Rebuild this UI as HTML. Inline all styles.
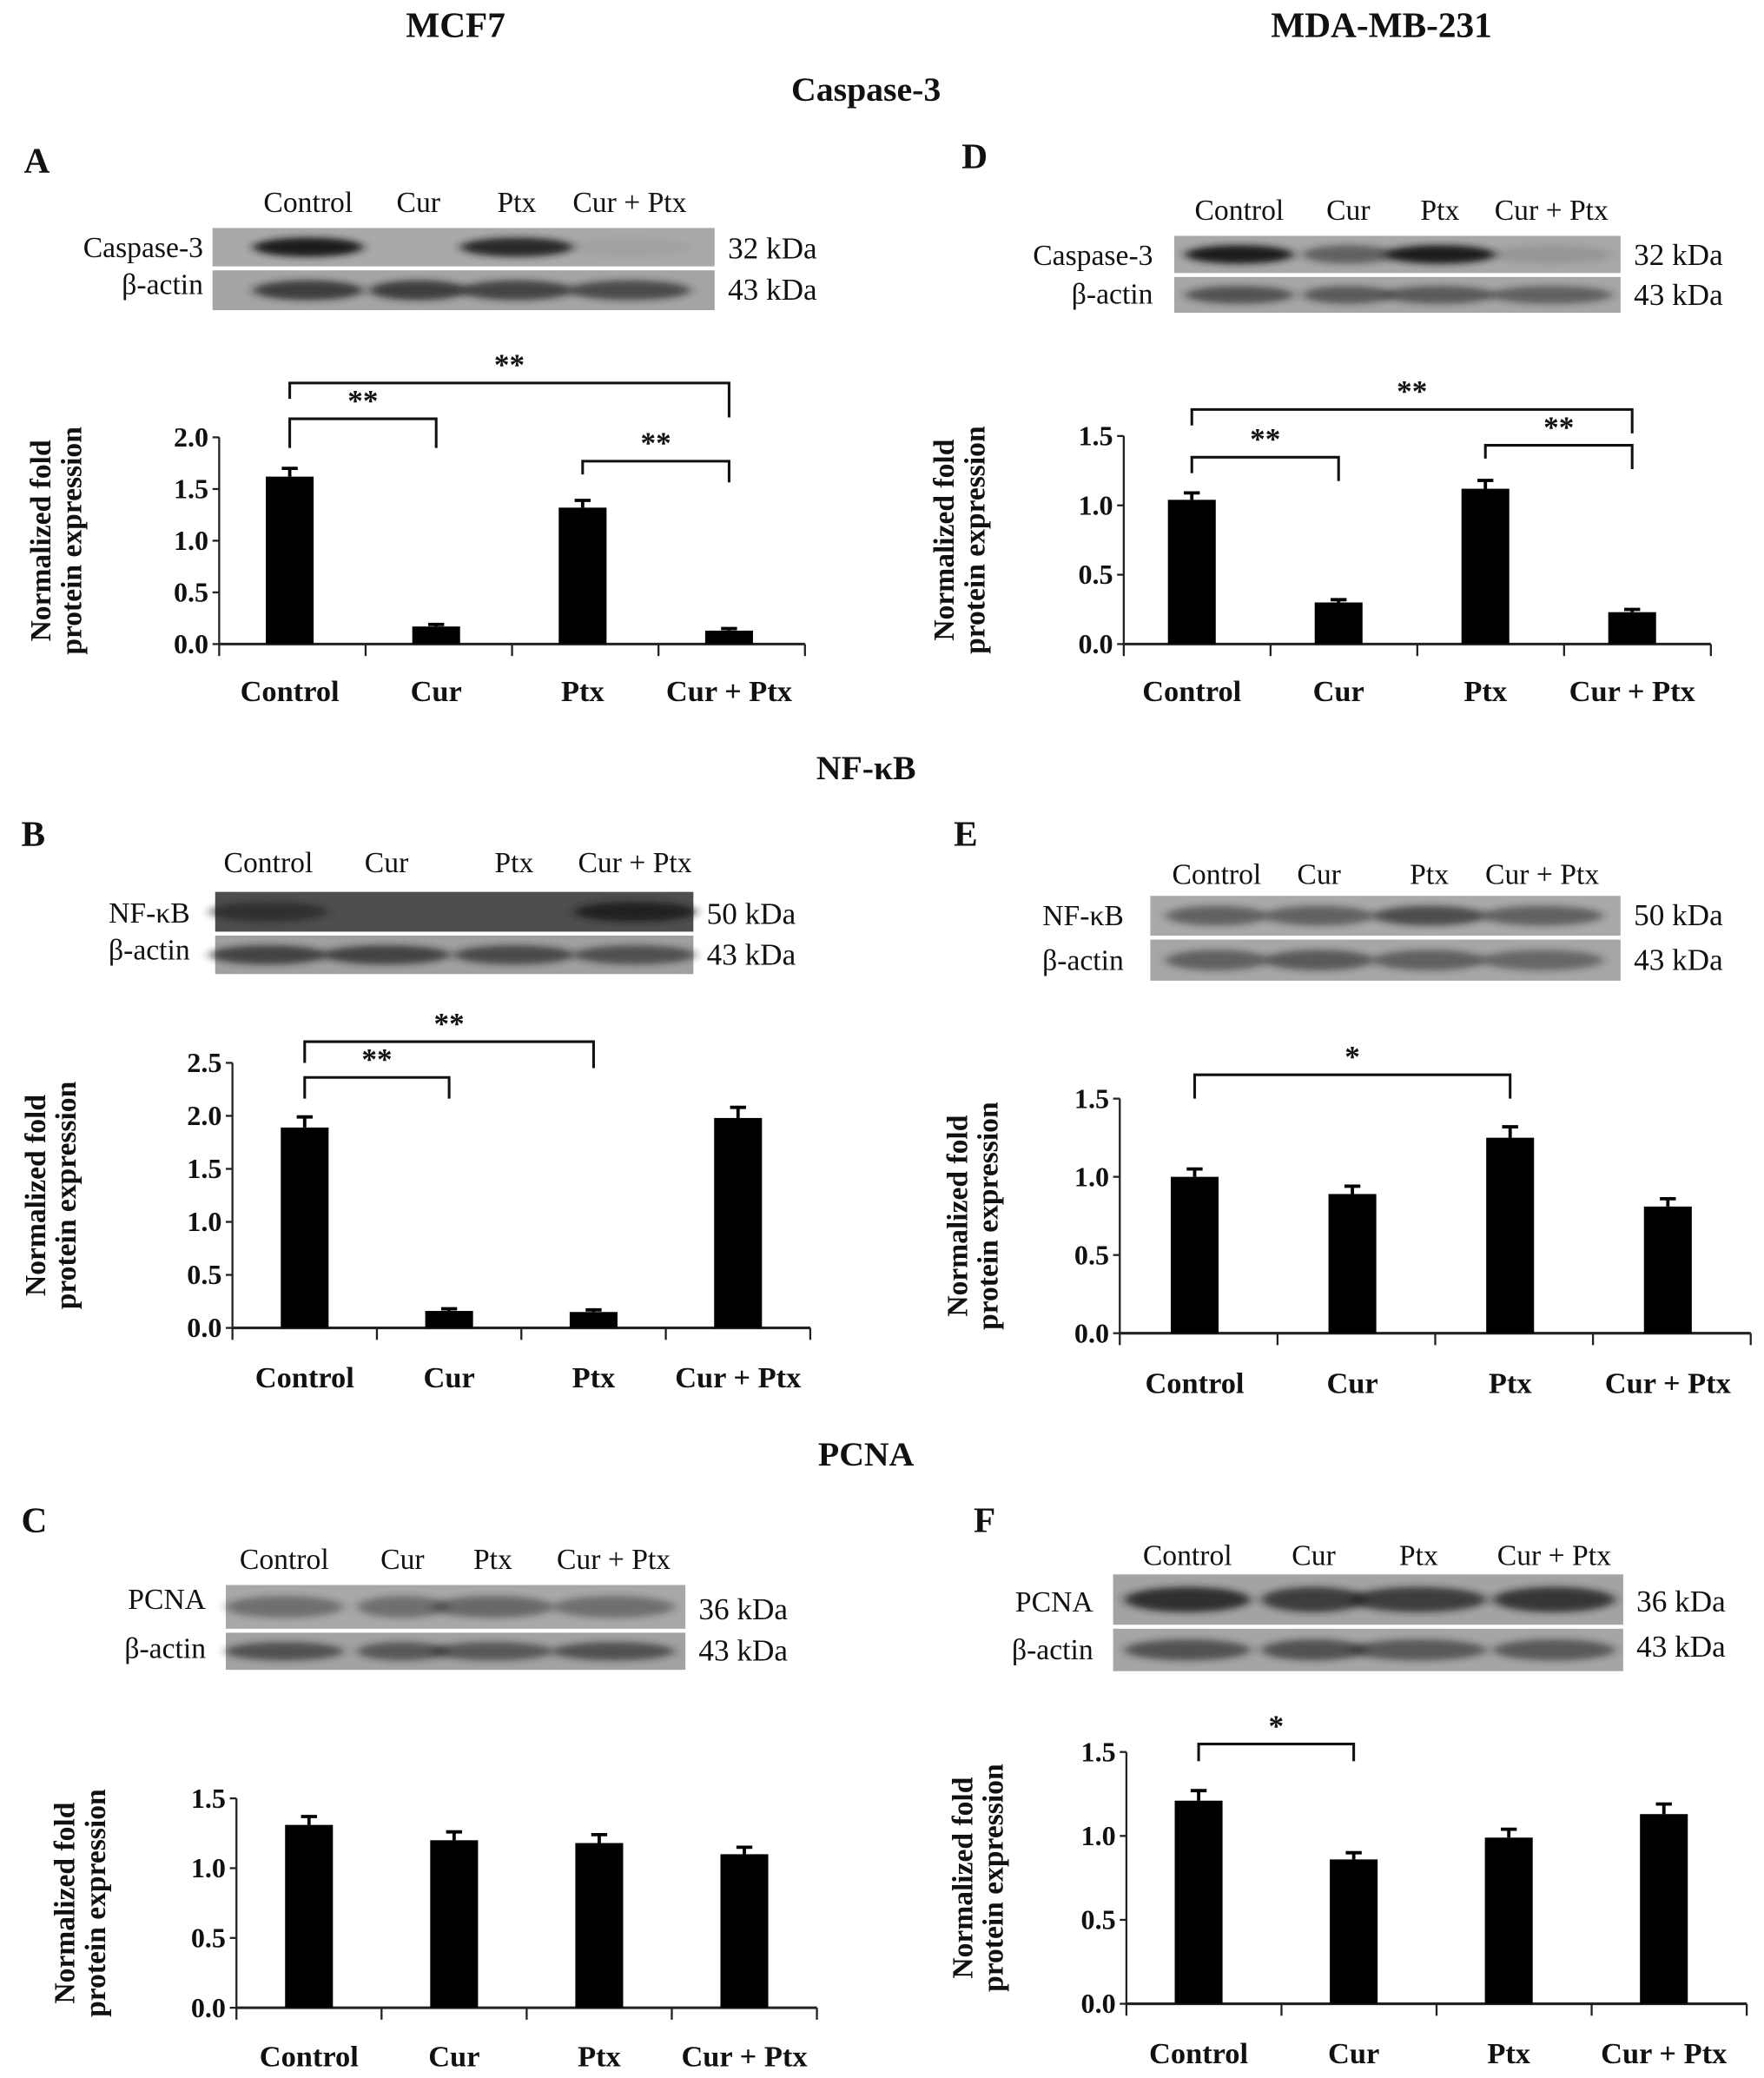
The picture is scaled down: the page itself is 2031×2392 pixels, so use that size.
<!DOCTYPE html>
<html><head><meta charset="utf-8"><style>
html,body{margin:0;padding:0;background:#fff;}
svg{display:block;}
text{font-family:"Liberation Serif",serif;fill:#111;}
.b{font-weight:bold;}
</style></head><body>
<svg id="fig" width="2031" height="2392" viewBox="0 0 1328 1568" preserveAspectRatio="none" xmlns="http://www.w3.org/2000/svg">
<defs><filter id="blur" x="-20%" y="-50%" width="140%" height="200%"><feGaussianBlur stdDeviation="4 2.5"/></filter></defs>
<text class="b" x="343" y="28" font-size="27" text-anchor="middle">MCF7</text>
<text class="b" x="1040" y="28" font-size="27" text-anchor="middle">MDA-MB-231</text>
<text class="b" x="652" y="76" font-size="26" text-anchor="middle">Caspase-3</text>
<text class="b" x="652" y="588" font-size="26" text-anchor="middle">NF-κB</text>
<text class="b" x="652" y="1106" font-size="26" text-anchor="middle">PCNA</text>
<g id="root"></g>
</svg>
<script>
// ---- chart data ----
const categories = ["Control","Cur","Ptx","Cur + Ptx"];
const valsA = [1.62,0.17,1.32,0.13], errsA = [0.08,0.02,0.07,0.02];
const valsB = [1.89,0.16,0.15,1.98], errsB = [0.10,0.02,0.02,0.10];
const valsC = [1.31,1.20,1.18,1.10], errsC = [0.06,0.06,0.06,0.05];
const valsD = [1.04,0.30,1.12,0.23], errsD = [0.05,0.02,0.06,0.02];
const valsE = [1.00,0.89,1.25,0.81], errsE = [0.05,0.05,0.07,0.05];
const valsF = [1.21,0.86,0.99,1.13], errsF = [0.06,0.04,0.05,0.06];
const ticksA = ["0.0","0.5","1.0","1.5","2.0"];
const ticksB = ["0.0","0.5","1.0","1.5","2.0","2.5"];
const ticks15 = ["0.0","0.5","1.0","1.5"];
const sigA = [[0,1,"**"],[0,3,"**"],[2,3,"**"]];
const sigB = [[0,1,"**"],[0,2,"**"]];
const sigD = [[0,1,"**"],[0,3,"**"],[2,3,"**"]];
const sigE = [[0,2,"*"]];
const sigF = [[0,1,"*"]];

const NS="http://www.w3.org/2000/svg";
const root=document.getElementById('root');
function mk(tag,attrs,parent,txt){const e=document.createElementNS(NS,tag);for(const k in attrs)e.setAttribute(k,attrs[k]);if(txt!==undefined)e.textContent=txt;(parent||root).appendChild(e);return e;}

function blot(c){
  const g=mk('g',{});
  
  
  mk('text',{x:c.letterX,y:c.letterY,'font-size':27,class:'b'},g,c.letter);
  categories.forEach((n,i)=>{const t=mk('text',{x:c.lanes[i],y:c.laneY,'font-size':22,'text-anchor':'middle'},g,n);
    });
  c.rows.forEach(r=>{
    mk('rect',{x:c.x0,y:r.y,width:c.x1-c.x0,height:r.h,fill:r.bg},g);
    r.int.forEach((v,i)=>{ if(v>0) mk('ellipse',{cx:c.lanes[i],cy:r.y+r.h/2,rx:(c.lanes[i+1]?(c.lanes[i+1]-c.lanes[i])*0.5:46),ry:r.h*0.25,fill:'#1a1a1a',opacity:v,filter:'url(#blur)'},g);});
    mk('text',{x:c.labelX,y:r.ty,'font-size':22,'text-anchor':'end'},g,r.name);
    mk('text',{x:c.x1+10,y:r.ky,'font-size':23},g,r.kda);
  });
}

function chart(c){
  const g=mk('g',{});
  
  
  const ymax=parseFloat(c.ticks[c.ticks.length-1]);
  const y=v=>c.y0-(v/ymax)*(c.y0-c.yTop);
  const bw=(c.x1-c.x0)/categories.length;
  const x=i=>c.x0+bw*(i+0.5)+(c.shift||0);
  mk('line',{x1:c.x0,y1:c.yTop,x2:c.x0,y2:c.y0,stroke:'#222','stroke-width':1.5},g);
  mk('line',{x1:c.x0,y1:c.y0,x2:c.x1,y2:c.y0,stroke:'#222','stroke-width':2},g);
  for(let i=0;i<=categories.length;i++) mk('line',{x1:c.x0+bw*i,y1:c.y0,x2:c.x0+bw*i,y2:c.y0+9,stroke:'#222','stroke-width':1.5},g);
  c.ticks.forEach(t=>{const v=parseFloat(t);
    mk('line',{x1:c.x0-5,y1:y(v),x2:c.x0,y2:y(v),stroke:'#222','stroke-width':1.5},g);
    const tx=mk('text',{x:c.x0-8,y:y(v)+7,'font-size':21,'text-anchor':'end',class:'b'},g,t);
    });
  c.vals.forEach((v,i)=>{
    const r=mk('rect',{x:x(i)-18,y:y(v),width:36,height:c.y0-y(v),fill:'#000'},g);
    
    
    const e=c.errs[i];
    mk('line',{x1:x(i),y1:y(v),x2:x(i),y2:y(v+e),stroke:'#000','stroke-width':2.5},g);
    mk('line',{x1:x(i)-6,y1:y(v+e),x2:x(i)+6,y2:y(v+e),stroke:'#000','stroke-width':2.5},g);
    const cl=mk('text',{x:x(i),y:c.catY,'font-size':22.5,'text-anchor':'middle',class:'b'},g,categories[i]);
    
  });
  const cy=(c.yTop+c.y0)/2;
  const tt=mk('text',{transform:`translate(${c.titleX},${cy}) rotate(-90)`,'font-size':22,'text-anchor':'middle',class:'b'},g);
  
  mk('tspan',{x:0,y:0},tt,'Normalized  fold');
  mk('tspan',{x:0,y:23},tt,'protein expression');
  (c.sig||[]).forEach((s,k)=>{
    const [a,b,lab]=s; const by=c.sigY[k];
    const p=mk('path',{d:`M${x(a)},${by+c.legs[k][0]} V${by} H${x(b)} V${by+c.legs[k][1]}`,fill:'none',stroke:'#111','stroke-width':2},g);
    
    mk('text',{x:(x(a)+x(b))/2,y:by-6,'font-size':23,'text-anchor':'middle',class:'b'},g,lab);
  });
}

// blots
blot({id:'a',letter:'A',letterX:18,letterY:130,lanes:[232,315,389,474],laneY:160,x0:160,x1:538,labelX:153,
 rows:[{y:172,h:29,bg:'#a9a9a9',int:[1,0,0.9,0.05],name:'Caspase-3',ty:194,kda:'32 kDa',ky:195},
       {y:204,h:30,bg:'#a4a4a4',int:[0.75,0.75,0.7,0.65],name:'β-actin',ty:222,kda:'43 kDa',ky:226}]});
blot({id:'d',letter:'D',letterX:724,letterY:127,lanes:[933,1015,1084,1168],laneY:166,x0:884,x1:1220,labelX:868,
 rows:[{y:178,h:28,bg:'#a8a8a8',int:[1,0.5,1,0.12],name:'Caspase-3',ty:200,kda:'32 kDa',ky:200},
       {y:209,h:27,bg:'#a6a6a6',int:[0.6,0.55,0.55,0.5],name:'β-actin',ty:229,kda:'43 kDa',ky:230}]});
blot({id:'b',letter:'B',letterX:16,letterY:638,lanes:[202,291,387,478],laneY:658,x0:162,x1:522,labelX:143,
 rows:[{y:673,h:30,bg:'#4e4e4e',int:[0.6,0,0,0.9],name:'NF-κB',ty:696,kda:'50 kDa',ky:697},
       {y:706,h:29,bg:'#a0a0a0',int:[0.7,0.7,0.65,0.6],name:'β-actin',ty:724,kda:'43 kDa',ky:728}]});
blot({id:'e',letter:'E',letterX:718,letterY:638,lanes:[916,993,1076,1161],laneY:667,x0:866,x1:1220,labelX:846,
 rows:[{y:676,h:30,bg:'#a9a9a9',int:[0.5,0.5,0.65,0.5],name:'NF-κB',ty:698,kda:'50 kDa',ky:698},
       {y:709,h:31,bg:'#a6a6a6',int:[0.5,0.55,0.5,0.45],name:'β-actin',ty:732,kda:'43 kDa',ky:732}]});
blot({id:'c',letter:'C',letterX:16,letterY:1156,lanes:[214,303,371,462],laneY:1184,x0:170,x1:516,labelX:155,
 rows:[{y:1196,h:33,bg:'#a8a8a8',int:[0.4,0.4,0.45,0.4],name:'PCNA',ty:1214,kda:'36 kDa',ky:1222},
       {y:1232,h:28,bg:'#a2a2a2',int:[0.6,0.55,0.55,0.6],name:'β-actin',ty:1251,kda:'43 kDa',ky:1253}]});
blot({id:'f',letter:'F',letterX:733,letterY:1156,lanes:[894,989,1068,1170],laneY:1181,x0:838,x1:1222,labelX:823,
 rows:[{y:1188,h:38,bg:'#a3a3a3',int:[0.85,0.75,0.75,0.8],name:'PCNA',ty:1216,kda:'36 kDa',ky:1216},
       {y:1229,h:32,bg:'#a5a5a5',int:[0.6,0.6,0.55,0.55],name:'β-actin',ty:1252,kda:'43 kDa',ky:1250}]});

// charts
chart({id:'a',x0:165,x1:606,y0:486,yTop:330,ticks:ticksA,vals:valsA,errs:errsA,catY:529,titleX:38,shift:-2,
  sig:sigA,sigY:[316,289,348],legs:[[22,22],[12,26],[10,16]]});
chart({id:'d',x0:846,x1:1288,y0:486,yTop:329,ticks:ticks15,vals:valsD,errs:errsD,catY:529,titleX:718,shift:-4,
  sig:sigD,sigY:[345,309,336],legs:[[12,18],[12,18],[10,18]]});
chart({id:'b',x0:175,x1:610,y0:1002,yTop:802,ticks:ticksB,vals:valsB,errs:errsB,catY:1047,titleX:34,shift:0,
  sig:sigB,sigY:[813,786],legs:[[16,16],[16,20]]});
chart({id:'e',x0:843,x1:1318,y0:1006,yTop:829,ticks:ticks15,vals:valsE,errs:errsE,catY:1051,titleX:728,shift:-3,
  sig:sigE,sigY:[811],legs:[[18,18]]});
chart({id:'c',x0:178,x1:615,y0:1515,yTop:1357,ticks:ticks15,vals:valsC,errs:errsC,catY:1559,titleX:56,shift:0});
chart({id:'f',x0:848,x1:1315,y0:1512,yTop:1322,ticks:ticks15,vals:valsF,errs:errsF,catY:1557,titleX:732,shift:-4,
  sig:sigF,sigY:[1316],legs:[[13,13]]});
</script>
</body></html>
